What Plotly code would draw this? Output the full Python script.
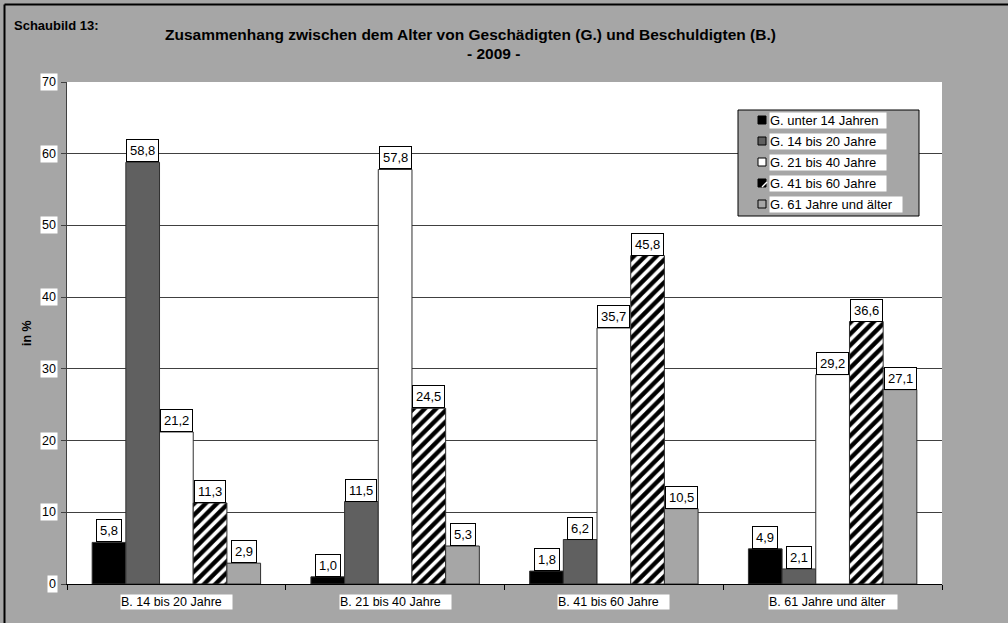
import plotly.graph_objects as go

# Beschuldigte (groups on the x axis)
categories = ["B. 14 bis 20 Jahre", "B. 21 bis 40 Jahre", "B. 41 bis 60 Jahre", "B. 61 Jahre und älter"]

# Geschädigte (one series each), values in %
series_names = ["G. unter 14 Jahren", "G. 14 bis 20 Jahre", "G. 21 bis 40 Jahre",
                "G. 41 bis 60 Jahre", "G. 61 Jahre und älter"]
g_unter_14 = [5.8, 1.0, 1.8, 4.9]
g_14_20 = [58.8, 11.5, 6.2, 2.1]
g_21_40 = [21.2, 57.8, 35.7, 29.2]
g_41_60 = [11.3, 24.5, 45.8, 36.6]
g_61_plus = [2.9, 5.3, 10.5, 27.1]
series_values = [g_unter_14, g_14_20, g_21_40, g_41_60, g_61_plus]

y_ticks = [0, 10, 20, 30, 40, 50, 60, 70]

W, H = 1008, 623
L, R, T, B = 67, 66, 82, 39
PW, PH = W - L - R, H - T - B
BARGAP = 0.23
BG = "#a6a6a6"
FONT = "Arial, Liberation Sans, sans-serif"


def px_x(px):
    return (px - L) / PW


def px_y(py):
    return (H - B - py) / PH


def de(v):
    return f"{v:.1f}".replace(".", ",")


fills = ["#000000", "#606060", "#ffffff", "#000000", "#a6a6a6"]

fig = go.Figure()
for i, (name, vals) in enumerate(zip(series_names, series_values)):
    marker = dict(color=fills[i], line=dict(color="#303030", width=1))
    if i == 3:
        marker["pattern"] = dict(shape="/", fgcolor="white", bgcolor="black",
                                 size=8, solidity=0.45, fillmode="replace")
    fig.add_trace(go.Bar(name=name, x=categories, y=vals, marker=marker,
                         showlegend=False, hoverinfo="x+y+name"))

annotations = []
shapes = []

# value labels in white boxes above each bar
n = len(series_values)
bw = (1 - BARGAP) / n
for j, vals in enumerate(series_values):
    for i, v in enumerate(vals):
        xc = i - (1 - BARGAP) / 2 + (j + 0.5) * bw
        annotations.append(dict(x=xc, y=v, xref="x", yref="y", text=de(v),
                                showarrow=False, yanchor="bottom", xanchor="center",
                                bgcolor="white", bordercolor="black", borderwidth=1,
                                borderpad=3, font=dict(family=FONT, size=13, color="black")))

# y tick labels
for t in y_ticks:
    annotations.append(dict(x=0, y=t, xref="paper", yref="y", text=str(t),
                            showarrow=False, xanchor="right", yanchor="middle",
                            xshift=-9, bgcolor="white", borderpad=1,
                            font=dict(family=FONT, size=12.5, color="black")))

# category labels
for i, c in enumerate(categories):
    annotations.append(dict(x=i, y=px_y(602), xref="x", yref="paper", text=c,
                            showarrow=False, xanchor="center", yanchor="middle",
                            width=128 if i == 3 else 111, align="left",
                            bgcolor="white", borderpad=0,
                            font=dict(family=FONT, size=12.5, color="black")))

# titles
annotations += [
    dict(x=px_x(12), y=px_y(25), xref="paper", yref="paper", text="<b>Schaubild 13:</b>",
         showarrow=False, xanchor="left", yanchor="middle",
         font=dict(family=FONT, size=13, color="black")),
    dict(x=px_x(470), y=px_y(34), xref="paper", yref="paper",
         text="<b>Zusammenhang zwischen dem Alter von Geschädigten (G.) und Beschuldigten (B.)</b>",
         showarrow=False, xanchor="center", yanchor="middle",
         font=dict(family=FONT, size=15.5, color="black")),
    dict(x=px_x(493), y=px_y(53), xref="paper", yref="paper", text="<b>- 2009 -</b>",
         showarrow=False, xanchor="center", yanchor="middle",
         font=dict(family=FONT, size=15.5, color="black")),
    dict(x=px_x(27), y=px_y(333), xref="paper", yref="paper", text="<b>in %</b>",
         showarrow=False, textangle=-90, xanchor="center", yanchor="middle",
         font=dict(family=FONT, size=12.5, color="black")),
]

# legend box
shapes.append(dict(type="rect", xref="paper", yref="paper", layer="above",
                   x0=px_x(738), x1=px_x(919), y0=px_y(216), y1=px_y(110),
                   fillcolor=BG, line=dict(color="black", width=1)))
leg_y = [120, 141, 162, 183, 204]
for j, name in enumerate(series_names):
    cy = leg_y[j]
    shapes.append(dict(type="rect", xref="paper", yref="paper", layer="above",
                       x0=px_x(758), x1=px_x(766), y0=px_y(cy + 4), y1=px_y(cy - 4),
                       fillcolor=fills[j], line=dict(color="black", width=1)))
    if j == 3:
        shapes.append(dict(type="line", xref="paper", yref="paper", layer="above",
                           x0=px_x(762), x1=px_x(767), y0=px_y(cy + 4), y1=px_y(cy - 1),
                           line=dict(color="white", width=1.5)))
    annotations.append(dict(x=px_x(769), y=px_y(cy), xref="paper", yref="paper",
                            text=name, showarrow=False, xanchor="left", yanchor="middle",
                            width=132 if j == 4 else 116, align="left",
                            bgcolor="white", borderpad=0,
                            font=dict(family=FONT, size=13, color="black")))

# outer frame (top and left edges)
shapes.append(dict(type="line", xref="paper", yref="paper", x0=px_x(4.5), x1=px_x(1010),
                   y0=px_y(4.5), y1=px_y(4.5), line=dict(color="black", width=2)))
shapes.append(dict(type="line", xref="paper", yref="paper", x0=px_x(4.5), x1=px_x(4.5),
                   y0=px_y(4.5), y1=px_y(625), line=dict(color="black", width=2)))

fig.update_layout(
    width=W, height=H,
    margin=dict(l=L, r=R, t=T, b=B, pad=0),
    paper_bgcolor=BG, plot_bgcolor="white",
    barmode="group", bargap=BARGAP, bargroupgap=0,
    font=dict(family=FONT, size=12, color="black"),
    annotations=annotations, shapes=shapes,
    xaxis=dict(showticklabels=False, ticks="outside", tickson="boundaries", ticklen=5,
               tickcolor="black", showline=True, linecolor="black", linewidth=1,
               showgrid=False, zeroline=False, mirror=False),
    yaxis=dict(range=[0, 70], tickvals=y_ticks, showticklabels=False, ticks="outside",
               ticklen=5, tickcolor="#404040", showline=True, linecolor="#404040",
               linewidth=1, showgrid=True, gridcolor="#404040", gridwidth=1,
               zeroline=False),
)

fig.write_html("out.html")
